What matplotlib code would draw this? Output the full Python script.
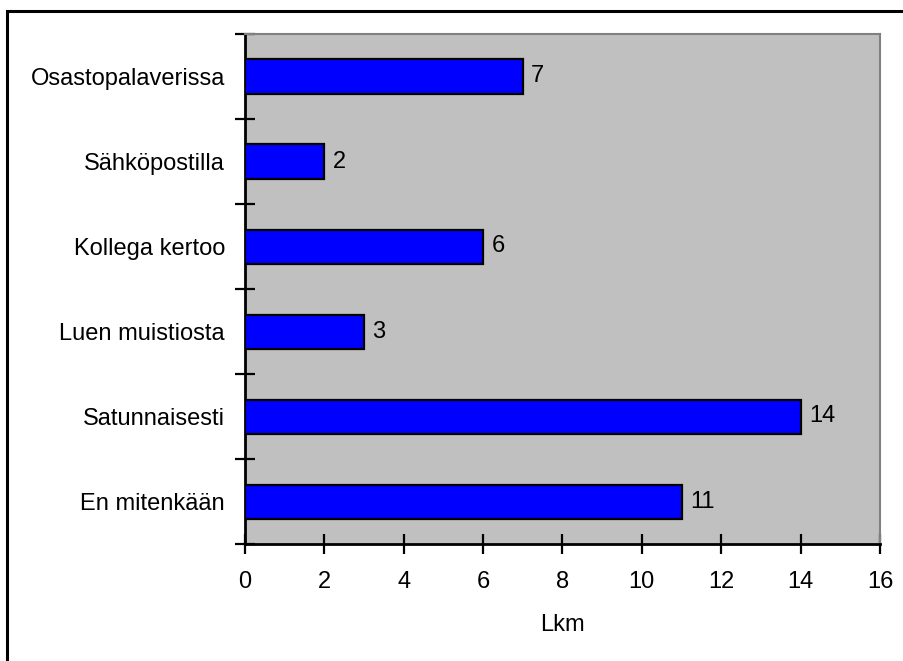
import matplotlib
matplotlib.use("Agg")
import matplotlib.pyplot as plt
from matplotlib.patches import Rectangle

# Survey answers (top to bottom as shown) and their counts
categories = ["Osastopalaverissa", "Sähköpostilla", "Kollega kertoo",
              "Luen muistiosta", "Satunnaisesti", "En mitenkään"]
counts = [7, 2, 6, 3, 14, 11]
x_ticks = [0, 2, 4, 6, 8, 10, 12, 14, 16]
x_label = "Lkm"

plt.rcParams["font.family"] = ["Liberation Sans", "DejaVu Sans"]
FS = 17

fig = plt.figure(figsize=(9.04, 6.61), dpi=100)
fig.patch.set_facecolor("white")

# Outer chart frame (only its top and left edges fall inside the image)
fig.patches.append(Rectangle((7 / 904, -0.05), 1.2, 1 - 11 / 661 + 0.05,
                             transform=fig.transFigure, fill=False,
                             edgecolor="black", linewidth=2.2, zorder=0))

ax = fig.add_axes([245 / 904, 1 - 544 / 661, (880 - 245) / 904, (544 - 34) / 661])
ax.set_facecolor("#C0C0C0")

n = len(categories)
ypos = list(range(n - 1, -1, -1))  # first category at the top
ax.barh(ypos, counts, height=0.4, color="#0000FF", edgecolor="black",
        linewidth=1.6, zorder=3)

for y, v in zip(ypos, counts):
    ax.annotate(str(v), xy=(v, y), xytext=(6, 0), textcoords="offset points",
                va="center", ha="left", fontsize=FS, zorder=4)

ax.set_xlim(0, 16)
ax.set_ylim(-0.5, n - 0.5)
ax.set_xticks(x_ticks)
ax.set_xticklabels([str(t) for t in x_ticks], fontsize=FS)

# Category labels sit between the boundary tick marks
ax.set_yticks(ypos)
ax.set_yticklabels(categories, fontsize=FS)
ax.set_yticks([i - 0.5 for i in range(n + 1)], minor=True)
ax.tick_params(axis="y", which="major", length=0, pad=14.4)
ax.tick_params(axis="y", which="minor", direction="inout", length=14, width=1.6)
ax.tick_params(axis="x", which="major", direction="inout", length=14, width=1.6, pad=12.5)

ax.set_xlabel(x_label, fontsize=FS, labelpad=15)

for side in ("left", "bottom"):
    ax.spines[side].set_color("black")
    ax.spines[side].set_linewidth(2)
for side in ("top", "right"):
    ax.spines[side].set_color("#808080")
    ax.spines[side].set_linewidth(1.5)

fig.savefig("out.png", dpi=100)
